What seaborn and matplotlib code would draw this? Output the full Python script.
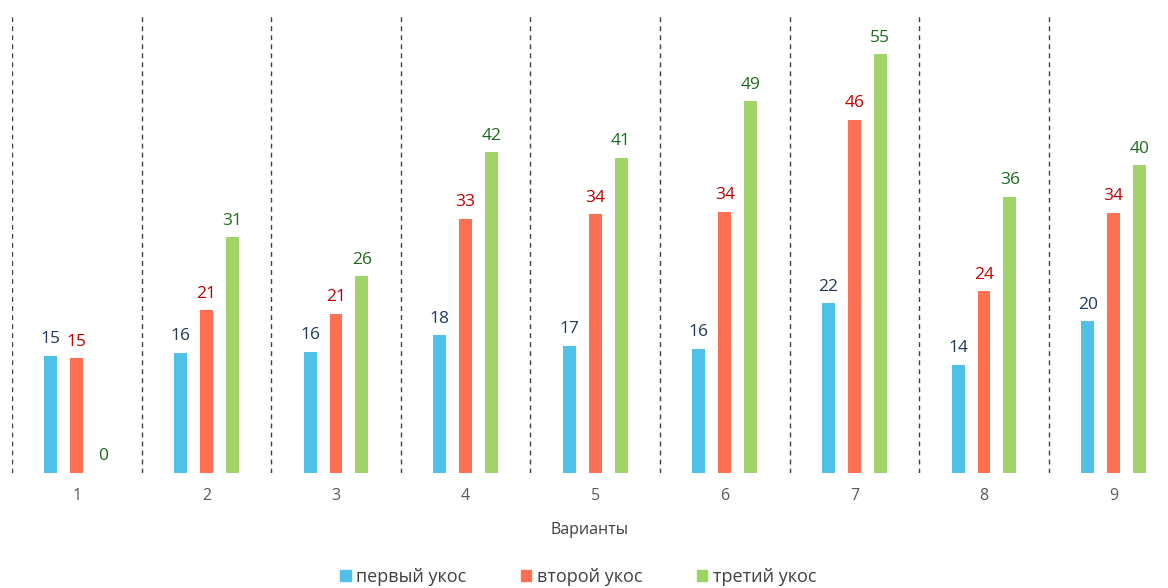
import pandas as pd
import seaborn as sns
import matplotlib.pyplot as plt
import matplotlib.patches as mpatches

# data
variants = ['1', '2', '3', '4', '5', '6', '7', '8', '9']
first_cut = [15.4, 15.8, 15.9, 18.1, 16.7, 16.3, 22.3, 14.2, 19.9]
second_cut = [15.1, 21.4, 20.9, 33.4, 34.0, 34.3, 46.4, 23.9, 34.2]
third_cut = [0.0, 31.0, 25.8, 42.1, 41.4, 48.8, 55.0, 36.3, 40.4]
series_names = ['первый укос', 'второй укос', 'третий укос']

bar_colors = ['#4FC1E9', '#FF7052', '#A0D468']
label_colors = ['#1F3864', '#C00000', '#1E6B1E']

df = pd.DataFrame({
    'Вариант': variants * 3,
    'value': first_cut + second_cut + third_cut,
    'series': [series_names[0]] * 9 + [series_names[1]] * 9 + [series_names[2]] * 9,
})

sns.set_style('white')
plt.rcParams['font.family'] = ['Open Sans', 'DejaVu Sans']

fig = plt.figure(figsize=(11.68, 5.88), dpi=100)
W, H = 1168, 588
x_left, x_right = 12, 1168
y_top, y_base = 14, 472.7
ax = fig.add_axes([x_left / W, 1 - y_base / H, (x_right - x_left) / W, (y_base - y_top) / H])

sns.barplot(data=df, x='Вариант', y='value', hue='series', palette=bar_colors,
            width=0.6, gap=0.5, ax=ax, legend=False, saturation=1, edgecolor='none')

ax.set_xlim(-0.5, -0.5 + (x_right - x_left) / 129.6)
ax.set_ylim(0, 60.3)

for i in range(len(variants)):
    ax.axvline(i - 0.5, color='#404040', linestyle=(0, (3.5, 3)), linewidth=1, zorder=0)

for container, col in zip(ax.containers, label_colors):
    ax.bar_label(container, fmt='%.0f', padding=6, color=col, fontsize=12.5)

for s in ax.spines.values():
    s.set_visible(False)
ax.set_yticks([])
ax.set_ylabel('')
ax.tick_params(axis='x', length=0, pad=11, labelsize=11.5, labelcolor='#595959')
ax.set_xlabel('Варианты', fontsize=11.5, color='#404040', labelpad=13)

handles = [mpatches.Patch(color=c, label=n) for c, n in zip(bar_colors, series_names)]
leg = fig.legend(handles=handles, loc='center', bbox_to_anchor=(0.495, 1 - 577 / H), ncol=3,
                 frameon=False, fontsize=13, handlelength=0.6, handleheight=0.6,
                 handletextpad=0.3, columnspacing=3.0)
for t in leg.get_texts():
    t.set_color('#404040')

fig.savefig('out.png', dpi=100)
